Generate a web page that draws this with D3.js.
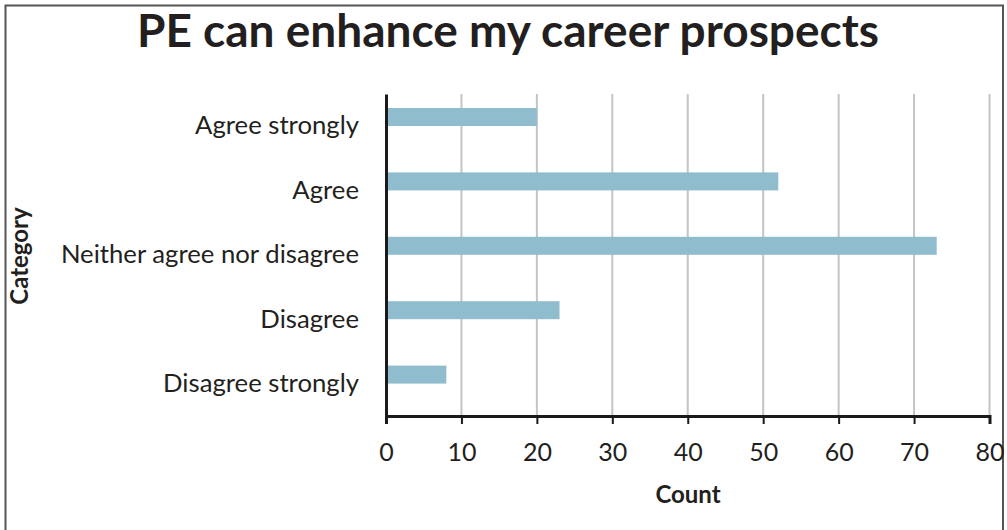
<!DOCTYPE html>
<html><head><meta charset="utf-8">
<script src="https://cdn.jsdelivr.net/npm/d3@7"></script>
<style>body{margin:0;background:#fff}svg{display:block}</style>
</head><body>
<svg id="c" width="1007" height="530"></svg>
<script>
const categories = ["Agree strongly","Agree","Neither agree nor disagree","Disagree","Disagree strongly"];
const counts = [20, 52, 73, 23, 8];
const xTicks = [0,10,20,30,40,50,60,70,80];
const title = "PE can enhance my career prospects";
const xTitle = "Count";
const yTitle = "Category";

const font = "Lato, 'Open Sans', sans-serif";
const svg = d3.select("#c");
svg.append("rect").attr("x",5.5).attr("y",5.5).attr("width",997.5).attr("height",540)
  .attr("fill","#fff").attr("stroke","#555").attr("stroke-width",2);

const x = d3.scaleLinear().domain([0,80]).range([386,989.5]);
const y = d3.scaleBand().domain(categories).range([94,416]);

// gridlines
svg.append("g").selectAll("line").data(xTicks.slice(1)).join("line")
  .attr("x1",d=>x(d)).attr("x2",d=>x(d)).attr("y1",94).attr("y2",416)
  .attr("stroke","#c4c4c4").attr("stroke-width",2);

// bars
svg.append("g").selectAll("rect").data(categories).join("rect")
  .attr("x",x(0)).attr("y",d=>y(d)+14).attr("height",18)
  .attr("width",(d,i)=>x(counts[i])-x(0))
  .attr("fill","#8fbdce");

// x axis
const xa = svg.append("g").attr("transform","translate(0,416)")
  .call(d3.axisBottom(x).tickValues(xTicks).tickSize(8).tickPadding(19));
xa.select(".domain").attr("stroke","#1a1a1a").attr("stroke-width",3);
xa.selectAll(".tick line").attr("stroke","#1a1a1a").attr("stroke-width",2);
xa.selectAll("text").attr("font-family",font).attr("font-size",25).attr("fill","#231f20");

// y axis
const ya = svg.append("g").attr("transform","translate(386,0)")
  .call(d3.axisLeft(y).tickSize(0).tickPadding(27));
ya.select(".domain").attr("stroke","#1a1a1a").attr("stroke-width",3);
ya.selectAll("text").attr("font-family",font).attr("font-size",25.7).attr("fill","#231f20");

svg.append("text").attr("x",508).attr("y",47).attr("text-anchor","middle")
  .attr("font-family",font).attr("font-weight",700).attr("font-size",46).attr("fill","#231f20").text(title);
svg.append("text").attr("x",688).attr("y",503).attr("text-anchor","middle")
  .attr("font-family",font).attr("font-weight",700).attr("font-size",24).attr("fill","#231f20").text(xTitle);
svg.append("text").attr("transform","translate(28,256) rotate(-90)").attr("text-anchor","middle")
  .attr("font-family",font).attr("font-weight",700).attr("font-size",24).attr("fill","#231f20").text(yTitle);
</script>
</body></html>
